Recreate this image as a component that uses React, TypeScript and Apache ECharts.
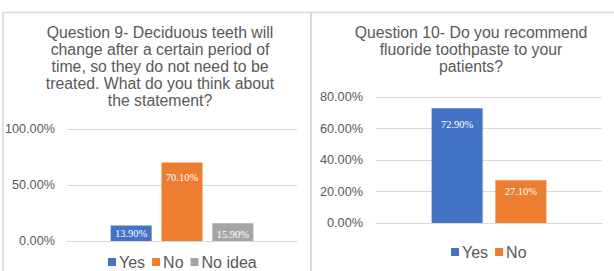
import React, { useEffect, useRef } from "react";
import * as echarts from "echarts";

const q9Title = "Question 9- Deciduous teeth will\nchange after a certain period of\ntime, so they do not need to be\ntreated. What do you think about\nthe statement?";
const q10Title = "Question 10- Do you recommend\nfluoride toothpaste to your\npatients?";
const q9Categories = ["Q9"];
const q10Categories = ["Q10"];
const q9Yes = [13.9];
const q9No = [70.1];
const q9NoIdea = [15.9];
const q10Yes = [72.9];
const q10No = [27.1];
const q9Legend = ["Yes", "No", "No idea"];
const q10Legend = ["Yes", "No"];

const BLUE = "#4472C4";
const ORANGE = "#ED7D31";
const GRAY = "#A5A5A5";
const TXT = "#595959";
const LINE = "#d9d9d9";
const SANS = "'Liberation Sans', Arial, sans-serif";
const SERIF = "'Liberation Serif', 'Times New Roman', serif";

const pct = (v: number) => v.toFixed(2) + "%";

function barData(values: number[], distances: number[]) {
  return values.map((v, i) => ({ value: v, label: { distance: distances[i] } }));
}

export default function App() {
  const ref = useRef<HTMLDivElement>(null);
  useEffect(() => {
    if (!ref.current) return;
    const chart = echarts.init(ref.current, undefined, { renderer: "svg" });
    const label = {
      show: true,
      position: "insideTop" as const,
      color: "#ffffff",
      fontFamily: SERIF,
      fontSize: 10.5,
      formatter: (p: any) => pct(p.value),
    };
    const yAxisCommon = {
      type: "value" as const,
      min: 0,
      axisLine: { show: false },
      axisTick: { show: false },
      splitLine: { lineStyle: { color: LINE, width: 1 } },
      axisLabel: {
        color: TXT,
        fontFamily: SANS,
        fontSize: 12.7,
        formatter: (v: number) => pct(v),
      },
    };
    const xAxisCommon = {
      type: "category" as const,
      axisLine: { lineStyle: { color: LINE } },
      axisTick: { show: false },
      axisLabel: { show: false },
    };
    const legendCommon = {
      padding: 0,
      itemWidth: 8,
      itemHeight: 8,
      itemGap: 7,
      icon: "rect",
      textStyle: { color: TXT, fontFamily: SANS, fontSize: 16, padding: [0, 0, 0, -2] },
    };
    chart.setOption({
      animation: false,
      backgroundColor: "#ffffff",
      graphic: [
        { type: "line", shape: { x1: 2, y1: 12.5, x2: 614, y2: 12.5 }, style: { stroke: LINE, lineWidth: 1.5 } },
        { type: "line", shape: { x1: 3, y1: 12, x2: 3, y2: 271 }, style: { stroke: LINE, lineWidth: 1.5 } },
        { type: "line", shape: { x1: 311, y1: 12, x2: 311, y2: 271 }, style: { stroke: LINE, lineWidth: 2 } },
        {
          type: "text",
          x: 160,
          y: 24.5,
          style: { text: q9Title, fill: TXT, font: `15.8px ${SANS}`, align: "center", verticalAlign: "top", lineHeight: 16.8 },
        },
        {
          type: "text",
          x: 471,
          y: 23.5,
          style: { text: q10Title, fill: TXT, font: `15.8px ${SANS}`, align: "center", verticalAlign: "top", lineHeight: 17 },
        },
      ],
      grid: [
        { left: 67, width: 230, top: 129, height: 112 },
        { left: 376, width: 226, top: 97, height: 126 },
      ],
      xAxis: [
        { ...xAxisCommon, gridIndex: 0, data: q9Categories },
        { ...xAxisCommon, gridIndex: 1, data: q10Categories },
      ],
      yAxis: [
        { ...yAxisCommon, gridIndex: 0, max: 100, interval: 50, axisLabel: { ...yAxisCommon.axisLabel, margin: 12 } },
        { ...yAxisCommon, gridIndex: 1, max: 80, interval: 20, axisLabel: { ...yAxisCommon.axisLabel, margin: 13 } },
      ],
      legend: [
        { ...legendCommon, data: q9Legend, left: 108, top: 254 },
        { ...legendCommon, data: q10Legend, left: 451, top: 244 },
      ],
      series: [
        { name: "Yes", type: "bar", xAxisIndex: 0, yAxisIndex: 0, barWidth: 41, barGap: "24%", itemStyle: { color: BLUE }, label, data: barData(q9Yes, [3]) },
        { name: "No", type: "bar", xAxisIndex: 0, yAxisIndex: 0, barWidth: 41, barGap: "24%", itemStyle: { color: ORANGE }, label, data: barData(q9No, [10]) },
        { name: "No idea", type: "bar", xAxisIndex: 0, yAxisIndex: 0, barWidth: 41, barGap: "24%", itemStyle: { color: GRAY }, label, data: barData(q9NoIdea, [6]) },
        { name: "Yes", type: "bar", xAxisIndex: 1, yAxisIndex: 1, barWidth: 51, barGap: "25%", itemStyle: { color: BLUE }, label, data: barData(q10Yes, [11]) },
        { name: "No", type: "bar", xAxisIndex: 1, yAxisIndex: 1, barWidth: 51, barGap: "25%", itemStyle: { color: ORANGE }, label, data: barData(q10No, [6]) },
      ],
    });
    return () => chart.dispose();
  }, []);
  return (
    <div
      ref={ref}
      style={{ position: "absolute", left: 0, top: 0, width: 614, height: 271, background: "#fff" }}
    />
  );
}
